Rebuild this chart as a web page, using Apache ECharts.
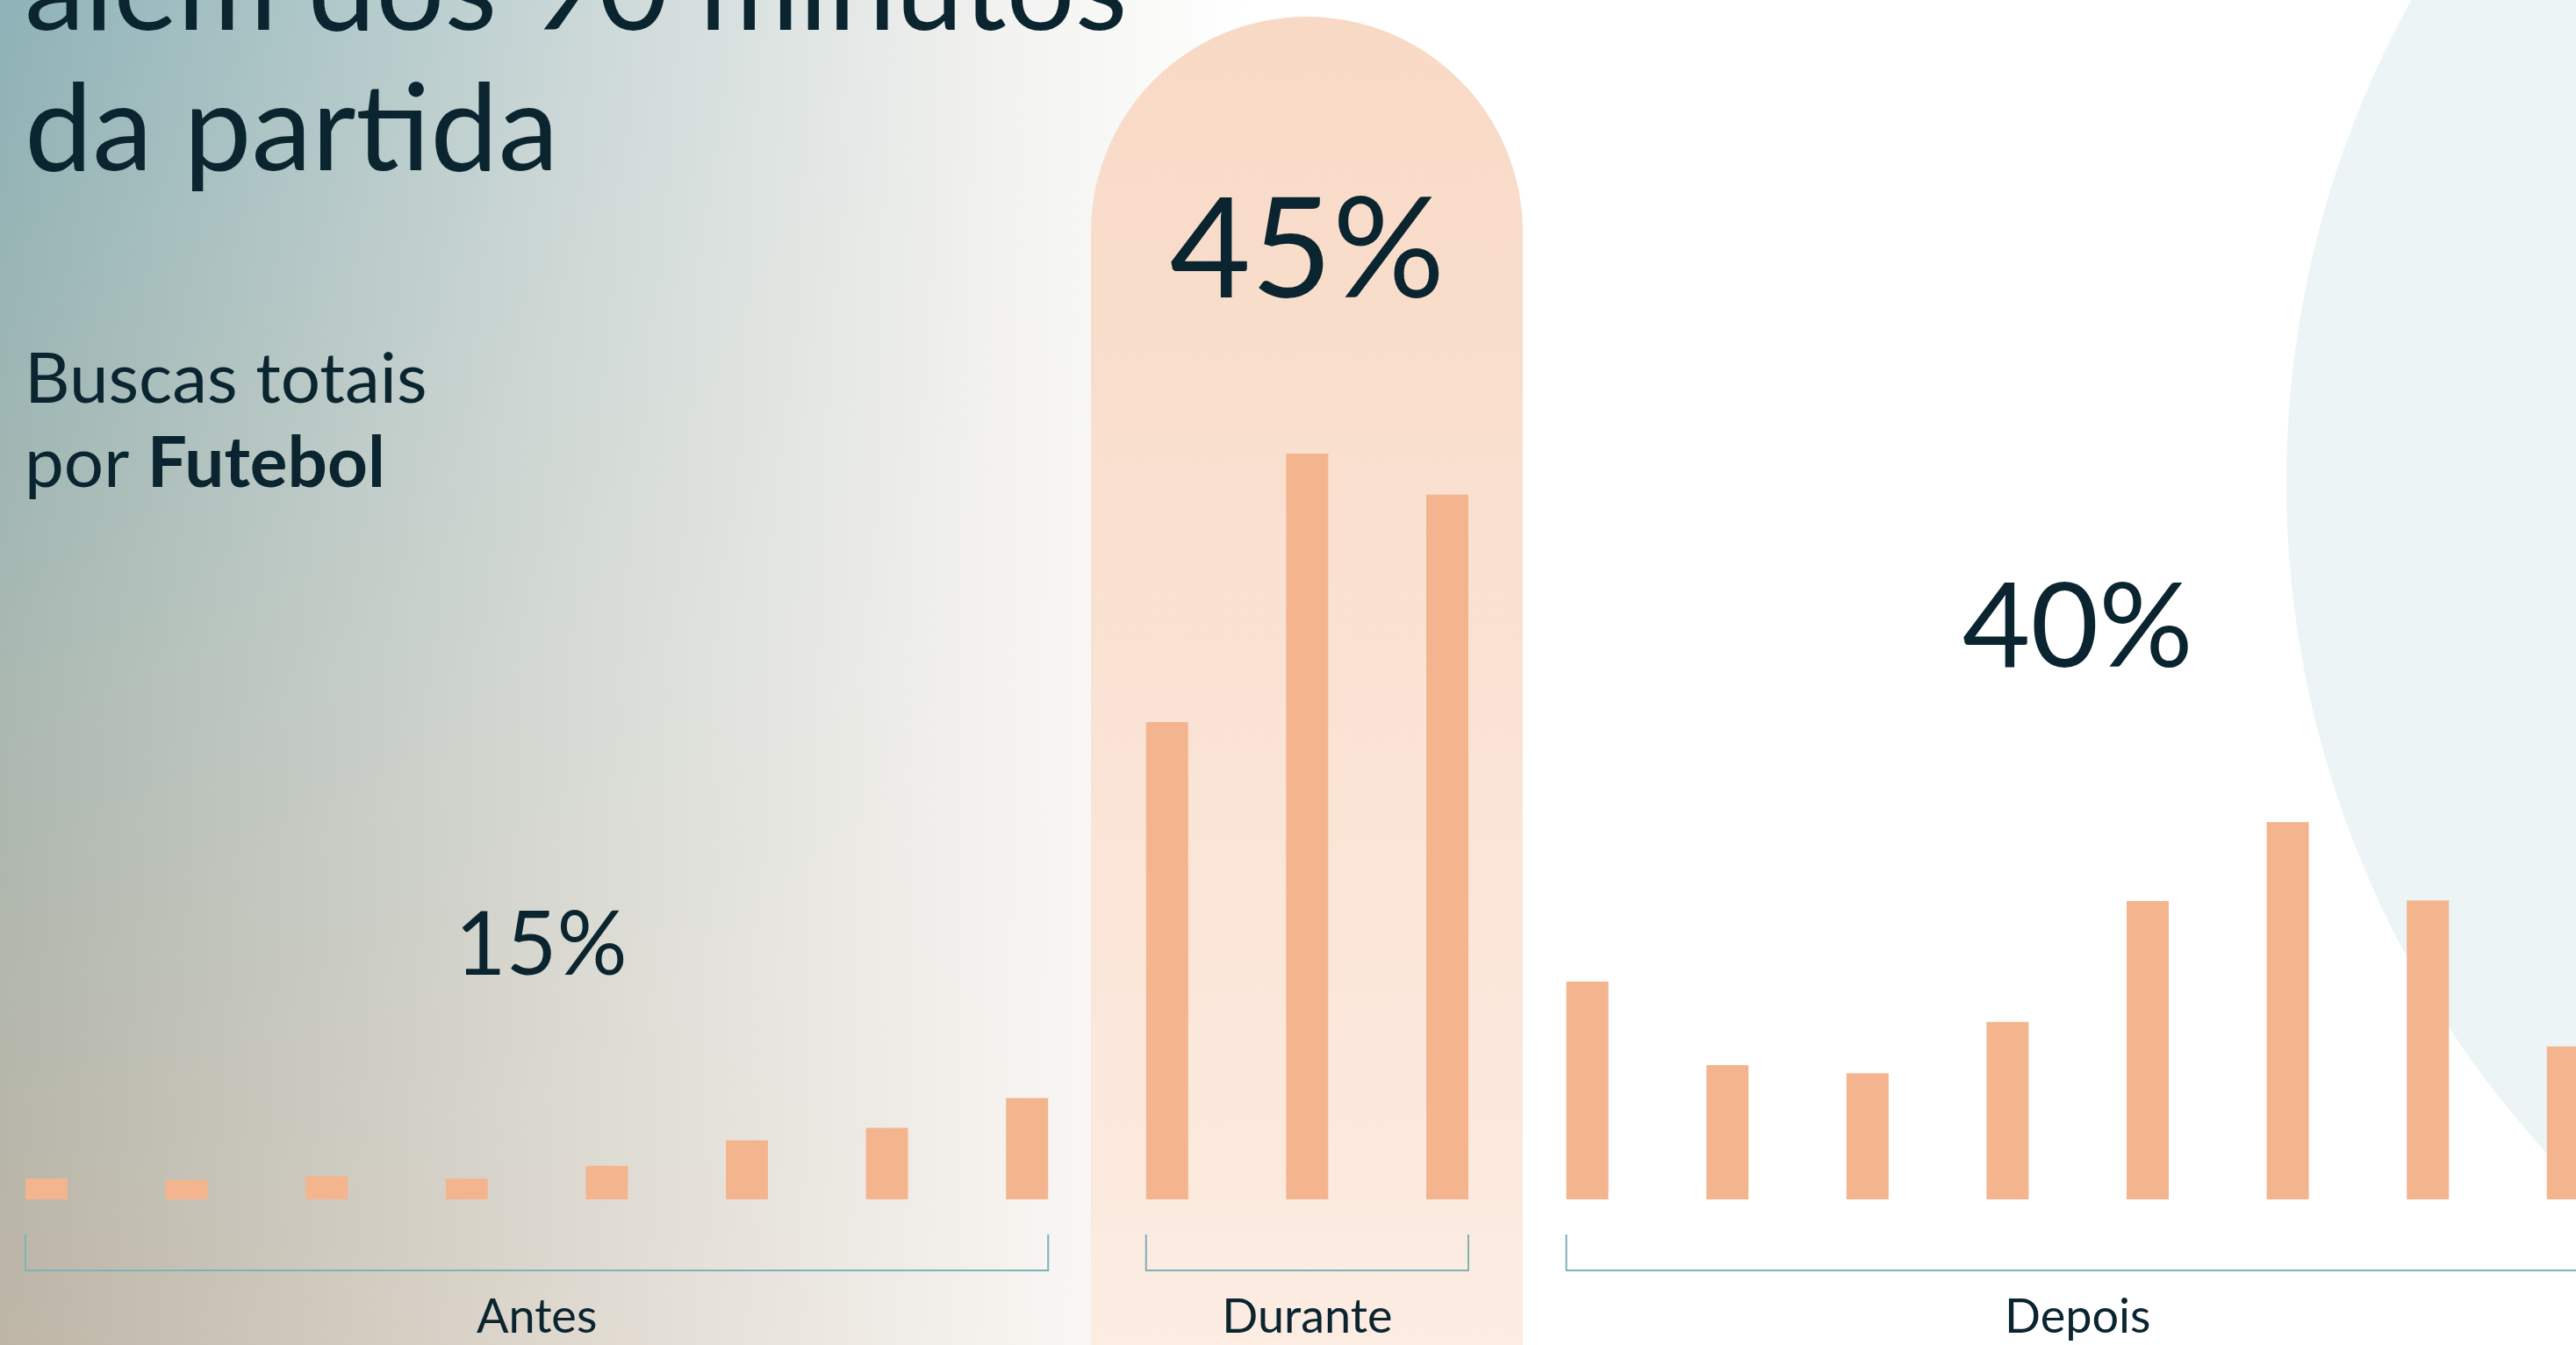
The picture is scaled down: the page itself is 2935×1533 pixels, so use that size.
<!DOCTYPE html>
<html>
<head>
<meta charset="utf-8">
<script src="https://cdn.jsdelivr.net/npm/echarts@6/dist/echarts.min.js"></script>
<style>
html,body{margin:0;padding:0;background:#ffffff;overflow:hidden}
#c{width:2935px;height:1533px}
</style>
</head>
<body>
<div id="c"></div>
<script>
// ---------- data ----------
const categories = [
  'Antes 1','Antes 2','Antes 3','Antes 4','Antes 5','Antes 6','Antes 7','Antes 8',
  'Durante 1','Durante 2','Durante 3',
  'Depois 1','Depois 2','Depois 3','Depois 4','Depois 5','Depois 6','Depois 7','Depois 8'
];
const searchValues = [
  2.8, 2.6, 3.1, 2.8, 4.5, 7.9, 9.6, 13.6,
  64.0, 100.0, 94.5,
  29.2, 18.0, 16.9, 23.8, 40.0, 50.6, 40.1, 20.5
];
const groupNames = ['Antes', 'Durante', 'Depois'];
const groupStart = [0, 8, 11];
const groupEnd = [7, 10, 18];
const groupShares = ['15%', '45%', '40%'];
const titleLines = ['além dos 90 minutos', 'da partida'];
const subtitleLines = ['Buscas totais', 'por ', 'Futebol'];

// ---------- style ----------
const FONT = 'Lato, "Noto Sans", sans-serif';
const INK = '#0b2530';
const BAR = '#f4b58e';
const BRACKET = '#7fb1b9';
const BAR_W = 48;
const shareStyle = [
  { size: 100, cy: 1079, dx: 5 },
  { size: 160, cy: 287, dx: 0 },
  { size: 134, cy: 717, dx: 0 }
];

const chart = echarts.init(document.getElementById('c'), null, { renderer: 'canvas' });

const groupData = groupNames.map((n, i) => [groupStart[i], groupEnd[i]]);

function txt(text, x, y, size, align, weight) {
  return {
    type: 'text', z: 50,
    style: {
      text: text, x: x, y: y,
      fill: INK,
      font: (weight || 'normal') + ' ' + size + 'px ' + FONT,
      align: align || 'left', verticalAlign: 'middle',
      textAlign: align || 'left', textVerticalAlign: 'middle'
    }
  };
}

function archFill() {
  return new echarts.graphic.LinearGradient(0, 19, 0, 1533, [
    { offset: 0, color: '#f8d9c5' },
    { offset: 1, color: '#fcece2' }
  ], true);
}

const option = {
  backgroundColor: '#ffffff',
  animation: false,
  grid: { left: -26.8, width: 3032.4, top: 517, bottom: 166, outerBoundsMode: 'none', containLabel: false },
  xAxis: {
    type: 'category', data: categories,
    axisLine: { show: false }, axisTick: { show: false }, axisLabel: { show: false },
    splitLine: { show: false }
  },
  yAxis: {
    type: 'value', min: 0, max: 100, show: false, splitLine: { show: false }
  },
  graphic: [
    {
      type: 'rect', z: -10, silent: true,
      shape: { x: 0, y: 0, width: 1420, height: 1533 },
      style: {
        fill: new echarts.graphic.LinearGradient(0, 0, 0, 1, [
          { offset: 0, color: '#8db2b7' },
          { offset: 0.5, color: '#a9b8b1' },
          { offset: 1, color: '#beb5a6' }
        ])
      }
    },
    {
      type: 'rect', z: -9, silent: true,
      shape: { x: 0, y: 0, width: 1420, height: 1533 },
      style: {
        fill: new echarts.graphic.LinearGradient(0, 0, 1, 0, [
          { offset: 0, color: 'rgba(249,245,240,0)' },
          { offset: 0.45, color: 'rgba(249,245,240,0.55)' },
          { offset: 0.8, color: 'rgba(250,247,244,0.92)' },
          { offset: 1, color: 'rgba(255,255,255,1)' }
        ])
      }
    },
    {
      type: 'circle', z: -8, silent: true,
      shape: { cx: 3738, cy: 550, r: 1133 },
      style: { fill: '#ecf4f5' }
    },
    {
      type: 'circle', z: -7, silent: true,
      shape: { cx: 1489, cy: 265, r: 246 },
      style: { fill: archFill() }
    },
    {
      type: 'rect', z: -7, silent: true,
      shape: { x: 1243, y: 264, width: 492, height: 1270 },
      style: { fill: archFill() }
    },
    txt(titleLines[0], 28, -11, 138),
    txt(titleLines[1], 28, 149, 138),
    txt(subtitleLines[0], 28, 433, 80),
    {
      type: 'text', z: 50,
      style: {
        text: '{n|' + subtitleLines[1] + '}{b|' + subtitleLines[2] + '}',
        x: 28, y: 529,
        align: 'left', verticalAlign: 'middle',
        textAlign: 'left', textVerticalAlign: 'middle',
        rich: {
          n: { fontFamily: FONT, fontSize: 80, fill: INK, color: INK },
          b: { fontFamily: FONT, fontSize: 80, fontWeight: 'bold', fill: INK, color: INK }
        }
      }
    }
  ],
  series: [
    {
      type: 'bar', name: 'Buscas', data: searchValues,
      barWidth: BAR_W, silent: true,
      itemStyle: { color: BAR },
      z: 3
    },
    {
      type: 'custom', silent: true, z: 4,
      data: groupData,
      encode: { x: 0 },
      renderItem: function (params, api) {
        const i = params.dataIndex;
        const s = api.coord([api.value(0), 0]);
        const e = api.coord([api.value(1), 0]);
        const x1 = s[0] - BAR_W / 2;
        const x2 = e[0] + BAR_W / 2;
        const base = s[1];
        const cx = (x1 + x2) / 2;
        const st = shareStyle[i];
        return {
          type: 'group',
          children: [
            {
              type: 'polyline',
              shape: { points: [[x1, base + 40], [x1, base + 81], [x2, base + 81], [x2, base + 40]] },
              style: { stroke: BRACKET, lineWidth: 2, fill: null }
            },
            {
              type: 'text',
              style: {
                text: groupNames[i], x: cx, y: base + 135,
                fill: INK, font: 'normal 54px ' + FONT,
                align: 'center', verticalAlign: 'middle',
                textAlign: 'center', textVerticalAlign: 'middle'
              }
            },
            {
              type: 'text',
              style: {
                text: groupShares[i], x: cx + st.dx, y: st.cy,
                fill: INK, font: 'normal ' + st.size + 'px ' + FONT,
                align: 'center', verticalAlign: 'middle',
                textAlign: 'center', textVerticalAlign: 'middle'
              }
            }
          ]
        };
      }
    }
  ]
};
chart.setOption(option);
</script>
</body>
</html>
